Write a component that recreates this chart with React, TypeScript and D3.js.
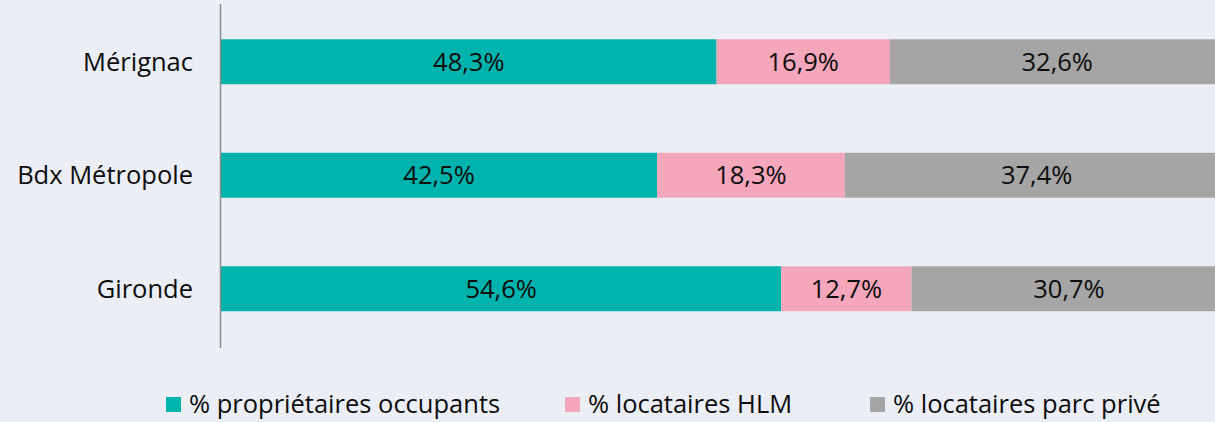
import React, { useEffect, useRef } from 'react';
import * as d3 from 'd3';

// categories (top to bottom) and series values in %
const categories = ['Mérignac', 'Bdx Métropole', 'Gironde'];
const seriesNames = ['% propriétaires occupants', '% locataires HLM', '% locataires parc privé'];
const proprietaires = [48.3, 42.5, 54.6];
const locatairesHlm = [16.9, 18.3, 12.7];
const locatairesPrive = [32.6, 37.4, 30.7];
const colors = ['#00B3AD', '#F4A6BB', '#A5A5A5'];

const App: React.FC = () => {
  const svgRef = useRef<SVGSVGElement>(null);

  useEffect(() => {
    if (!svgRef.current) return;
    const width = 1215;
    const height = 422;
    const font = "'Open Sans', 'Liberation Sans', sans-serif";
    const fontSize = 25.5;

    const svg = d3.select(svgRef.current).attr('width', width).attr('height', height);
    svg.selectAll('*').remove();

    svg.append('rect').attr('width', width).attr('height', height).attr('fill', '#EBEEF5');

    const series = [proprietaires, locatairesHlm, locatairesPrive];
    const rows = categories.map((c, i) => {
      let acc = 0;
      return series.map((s, k) => {
        const seg = { cat: c, k, x0: acc, x1: acc + s[i], v: s[i] };
        acc += s[i];
        return seg;
      });
    });

    const x = d3.scaleLinear().domain([0, 100]).range([221, 1247]);
    const y = d3.scaleBand<string>()
      .domain(categories)
      .range([5, 345.5])
      .paddingInner(0.604)
      .paddingOuter(0.302);

    const g = svg.append('g');
    rows.flat().forEach(d => {
      g.append('rect')
        .attr('x', x(d.x0))
        .attr('y', y(d.cat)!)
        .attr('width', x(d.x1) - x(d.x0))
        .attr('height', y.bandwidth())
        .attr('fill', colors[d.k]);
      g.append('text')
        .attr('x', (x(d.x0) + x(d.x1)) / 2)
        .attr('y', y(d.cat)! + y.bandwidth() / 2)
        .attr('dy', '0.35em')
        .attr('text-anchor', 'middle')
        .attr('font-family', font)
        .attr('font-size', fontSize)
        .attr('fill', '#0d0d0d')
        .text(d.v.toFixed(1).replace('.', ',') + '%');
    });

    // vertical axis line + category labels
    svg.append('line')
      .attr('x1', 220.5).attr('x2', 220.5)
      .attr('y1', 4).attr('y2', 348)
      .attr('stroke', '#8C8C8C').attr('stroke-width', 1.5);

    svg.append('g')
      .selectAll('text')
      .data(categories)
      .join('text')
      .attr('x', 193)
      .attr('y', d => y(d)! + y.bandwidth() / 2)
      .attr('dy', '0.35em')
      .attr('text-anchor', 'end')
      .attr('font-family', font)
      .attr('font-size', fontSize)
      .attr('fill', '#0d0d0d')
      .text(d => d);

    // legend
    const legendX = [166, 565, 870];
    const legend = svg.append('g');
    seriesNames.forEach((name, k) => {
      legend.append('rect')
        .attr('x', legendX[k]).attr('y', 397)
        .attr('width', 15).attr('height', 15)
        .attr('fill', colors[k]);
      legend.append('text')
        .attr('x', legendX[k] + 23)
        .attr('y', 404)
        .attr('dy', '0.35em')
        .attr('font-family', font)
        .attr('font-size', fontSize)
        .attr('fill', '#0d0d0d')
        .text(name);
    });
  }, []);

  return <svg ref={svgRef} style={{ position: 'absolute', left: 0, top: 0 }}></svg>;
};

export default App;
